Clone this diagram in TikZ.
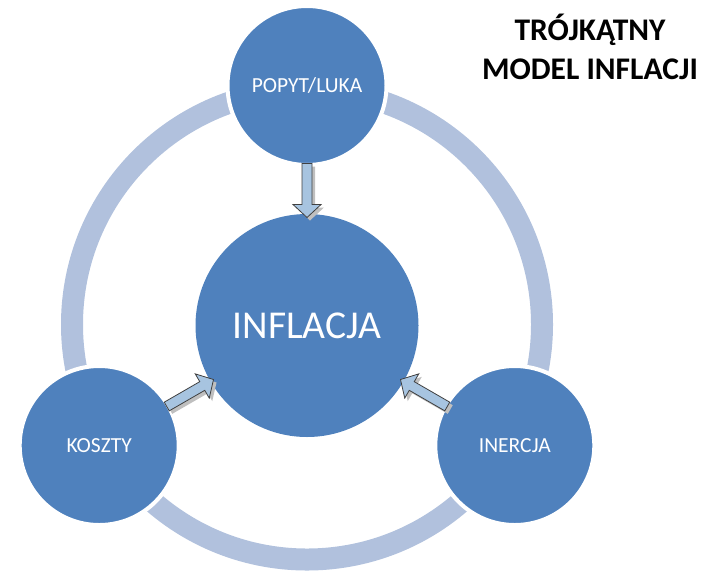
\documentclass[tikz,border=0pt]{standalone}
\usepackage{fontspec}
\setmainfont{Carlito}
\usetikzlibrary{calc}
\definecolor{nodeblue}{HTML}{4F81BD}
\definecolor{ringblue}{HTML}{B1C1DD}
\definecolor{arrowfill}{HTML}{A7C4E0}
\definecolor{arrowline}{HTML}{404040}
\tikzset{
  ringline/.style={draw=ringblue, line width=22pt},
  satellite/.style={circle, fill=nodeblue, draw=white, line width=4pt, minimum size=159pt, inner sep=0pt, text=white, font=\fontsize{21.5}{25}\selectfont},
  hub/.style={circle, fill=nodeblue, minimum size=223pt, inner sep=0pt, text=white, font=\fontsize{39.5}{46}\selectfont},
  titletext/.style={anchor=base, font=\bfseries\fontsize{31.5}{37}\selectfont, inner sep=0pt},
  arrowbody/.style={fill=arrowfill, draw=arrowline, line width=0.8pt, line join=miter},
  arrowshadow/.style={fill=black!25, draw=none},
}
\newcommand\blockarr[3]{%
  \fill[arrowshadow, shift={($(#1)!78pt!(#2)$)}, shift={(3pt,-3pt)}, rotate=#3]
    (0pt,-5pt) -- (41pt,-5pt) -- (41pt,-14pt) -- (54pt,0pt) -- (41pt,14pt) -- (41pt,5pt) -- (0pt,5pt) -- cycle;
  \draw[arrowbody, shift={($(#1)!78pt!(#2)$)}, rotate=#3]
    (0pt,-5pt) -- (41pt,-5pt) -- (41pt,-14pt) -- (54pt,0pt) -- (41pt,14pt) -- (41pt,5pt) -- (0pt,5pt) -- cycle;
}
\begin{document}
\begin{tikzpicture}[x=1pt, y=-1pt]
  \useasboundingbox (0,0) rectangle (711,571);
  \coordinate (ringc) at (307,324.5);
  \draw[ringline] (ringc) circle[radius=235pt];
  \node[hub] (infl) at (307,325.5) {INFLACJA};
  \node[satellite] (popyt) at (307,85.5) {POPYT/LUKA};
  \node[satellite] (koszty) at (99.2,445.5) {KOSZTY};
  \node[satellite] (inercja) at (514.8,445.5) {INERCJA};
  \blockarr{popyt}{infl}{-90}
  \blockarr{koszty}{infl}{30}
  \blockarr{inercja}{infl}{150}
  \node[titletext] (title1) at (590,40.5) {TRÓJKĄTNY};
  \node[titletext] (title2) at (590,79.5) {MODEL INFLACJI};
\end{tikzpicture}
\end{document}
